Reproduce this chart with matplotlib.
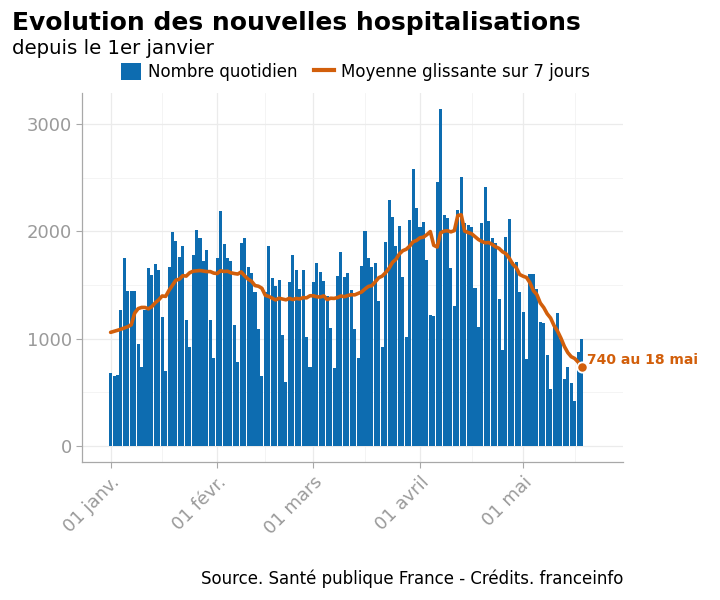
import numpy as np
import pandas as pd
import matplotlib
matplotlib.use('Agg')
import matplotlib.pyplot as plt
import matplotlib.dates as mdates
from matplotlib.patches import Patch
from matplotlib.lines import Line2D

# daily new hospitalisations, 1 Jan -> 18 May
daily = [683, 652, 658, 1267, 1752, 1444, 1444, 1447, 947, 733,
         1270, 1661, 1590, 1696, 1637, 1199, 702, 1671, 1994, 1913,
         1764, 1863, 1177, 919, 1776, 2012, 1935, 1727, 1826, 1177,
         823, 1752, 2193, 1882, 1752, 1720, 1127, 786, 1894, 1935,
         1671, 1615, 1438, 1087, 652, 1432, 1863, 1562, 1494, 1547,
         1034, 599, 1531, 1780, 1640, 1460, 1640, 1012, 739, 1530,
         1708, 1624, 1537, 1398, 1102, 724, 1587, 1811, 1578, 1615,
         1453, 1087, 823, 1680, 2006, 1748, 1665, 1702, 1351, 925,
         1904, 2292, 2130, 1863, 2050, 1571, 1019, 2106, 2578, 2214,
         2037, 2090, 1733, 1220, 1211, 2463, 3137, 2152, 2121, 1655,
         1304, 2200, 2503, 2075, 2059, 2043, 1469, 1112, 2075, 2410,
         2099, 1935, 1888, 1366, 894, 1950, 2112, 1717, 1711, 1438,
         1252, 807, 1599, 1599, 1463, 1158, 1143, 848, 528, 1112,
         1242, 1000, 621, 739, 584, 419, 873, 1000]

# 7-day moving average as read on the orange curve
moyenne = [1059, 1068, 1078, 1088, 1100, 1112, 1129, 1238, 1280, 1291,
           1291, 1278, 1299, 1335, 1362, 1398, 1394, 1451, 1498, 1545,
           1554, 1587, 1583, 1614, 1629, 1632, 1635, 1630, 1625, 1625,
           1611, 1607, 1633, 1626, 1629, 1614, 1607, 1602, 1622, 1585,
           1555, 1535, 1495, 1489, 1470, 1404, 1394, 1378, 1361, 1377,
           1369, 1362, 1376, 1364, 1375, 1370, 1383, 1380, 1400, 1400,
           1390, 1388, 1399, 1364, 1377, 1375, 1383, 1398, 1391, 1402,
           1410, 1408, 1422, 1435, 1463, 1487, 1494, 1530, 1568, 1583,
           1615, 1656, 1711, 1739, 1789, 1820, 1833, 1862, 1903, 1915,
           1940, 1946, 1969, 1998, 1870, 1854, 1986, 2002, 2006, 1995,
           2007, 2148, 2154, 2002, 1989, 1978, 1951, 1924, 1906, 1893,
           1896, 1878, 1856, 1841, 1810, 1792, 1749, 1694, 1662, 1598,
           1582, 1570, 1520, 1447, 1411, 1332, 1290, 1232, 1192, 1122,
           1071, 1005, 928, 870, 832, 816, 782, 740]

dates = pd.date_range('2021-01-01', periods=len(daily), freq='D')
tick_dates = pd.to_datetime(['2021-01-01', '2021-02-01', '2021-03-01', '2021-04-01', '2021-05-01'])
tick_labels = ['01 janv.', '01 févr.', '01 mars', '01 avril', '01 mai']
minor_dates = pd.to_datetime(['2021-01-16', '2021-02-15', '2021-03-16', '2021-04-16', '2021-05-16'])

blue = '#0d6cb0'
orange = '#d25f0b'
grey = '#9a9a9a'

plt.rcParams['font.family'] = ['DejaVu Sans']

fig = plt.figure(figsize=(7.2, 6), dpi=100)
ax = fig.add_axes([0.114, 0.23, 0.751, 0.615])

ax.bar(dates, daily, width=0.9, color=blue, zorder=2)
ax.plot(dates, moyenne, color=orange, linewidth=2.6, zorder=3, solid_capstyle='round')
ax.scatter([dates[-1]], [moyenne[-1]], s=55, color=orange, edgecolor='white', linewidth=1.3, zorder=4)
ax.annotate(f'{moyenne[-1]} au 18 mai', xy=(dates[-1], moyenne[-1]), xytext=(4, 5),
            textcoords='offset points', color=orange, fontsize=10, fontweight='bold',
            va='center', ha='left', annotation_clip=False)

ax.set_xlim(dates[0] - pd.Timedelta(days=8.3), dates[0] + pd.Timedelta(days=149))
ax.set_ylim(-149, 3289)

ax.set_xticks(tick_dates)
ax.set_xticklabels(tick_labels, rotation=45, ha='right', rotation_mode='anchor')
ax.set_xticks(minor_dates, minor=True)
ax.set_yticks([0, 1000, 2000, 3000])
ax.set_yticks([500, 1500, 2500], minor=True)

ax.grid(True, which='major', color='#ebebeb', linewidth=0.9, zorder=0)
ax.grid(True, which='minor', color='#f3f3f3', linewidth=0.6, zorder=0)
ax.set_axisbelow(True)

for side in ['top', 'right']:
    ax.spines[side].set_visible(False)
for side in ['left', 'bottom']:
    ax.spines[side].set_color('#a8a8a8')
    ax.spines[side].set_linewidth(0.9)

ax.tick_params(axis='both', which='major', colors='#a8a8a8', labelcolor=grey,
               labelsize=13, length=4, width=0.8)
ax.tick_params(axis='x', which='major', pad=4)
ax.tick_params(which='minor', length=0)

fig.text(0.017, 0.962, 'Evolution des nouvelles hospitalisations', fontsize=18,
         fontweight='bold', va='center', ha='left')
fig.text(0.017, 0.92, 'depuis le 1er janvier', fontsize=14.2, va='center', ha='left')

handles = [Patch(facecolor=blue, edgecolor='none'),
           Line2D([0], [0], color=orange, linewidth=3)]
fig.legend(handles, ['Nombre quotidien', 'Moyenne glissante sur 7 jours'],
           loc='center', bbox_to_anchor=(0.494, 0.88), ncol=2, frameon=False,
           fontsize=12, handlelength=1.2, handleheight=1.2, columnspacing=1.0,
           handletextpad=0.4)

fig.text(0.866, 0.036, 'Source. Santé publique France - Crédits. franceinfo',
         fontsize=12, ha='right', va='center')

fig.savefig('out.png', dpi=100)
